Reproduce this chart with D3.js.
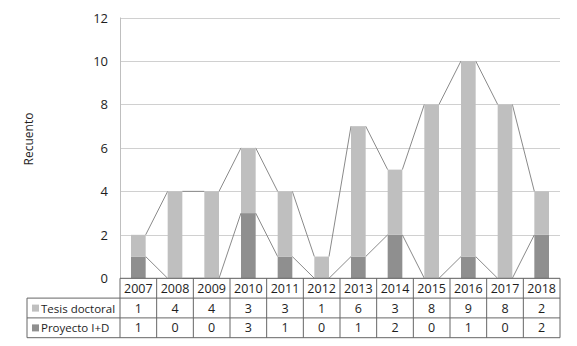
<!DOCTYPE html>
<html>
<head>
<meta charset="utf-8">
<script src="https://cdn.jsdelivr.net/npm/d3@7"></script>
<style>
  body { margin: 0; background: #fff; }
  text { font-family: "Open Sans", sans-serif; fill: #1e1e1e; }
</style>
</head>
<body>
<div id="chart"></div>
<script>
var years = ["2007","2008","2009","2010","2011","2012","2013","2014","2015","2016","2017","2018"];
var tesis = [1,4,4,3,3,1,6,3,8,9,8,2];
var proyecto = [1,0,0,3,1,0,1,2,0,1,0,2];
var seriesNames = ["Tesis doctoral", "Proyecto I+D"];
var yTicks = [0,2,4,6,8,10,12];

var width = 577, height = 346;
var plotLeft = 120, plotRight = 560, plotTop = 17.5, plotBottom = 278.3;
var rowH = 19.8;

var svg = d3.select("#chart")
            .append("svg")
            .attr("width", width)
            .attr("height", height)

var x = d3.scaleBand().domain(years).range([plotLeft, plotRight]).paddingInner(0).paddingOuter(0);
var y = d3.scaleLinear().domain([0, 12]).range([plotBottom, plotTop]);
var barW = x.bandwidth() * 0.4;

// gridlines
svg.selectAll(".grid")
    .data(yTicks)
    .enter()
    .append("line")
    .attr("x1", plotLeft).attr("x2", plotRight)
    .attr("y1", d => Math.round(y(d)) + 0.5)
    .attr("y2", d => Math.round(y(d)) + 0.5)
    .style("stroke", "#d0d0d0")
    .style("stroke-width", "1px");

// y tick labels
svg.selectAll(".ytick")
    .data(yTicks)
    .enter()
    .append("text")
    .attr("x", 108)
    .attr("y", d => y(d) + 5)
    .attr("text-anchor", "end")
    .style("font-size", "13px")
    .text(d => d);

svg.append("text")
    .attr("transform", "translate(33,139) rotate(-90)")
    .attr("text-anchor", "middle")
    .style("font-size", "12px")
    .text("Recuento");

// stacked data
var rows = years.map((yr, i) => ({ year: yr, p: proyecto[i], t: tesis[i] }));

// series lines (drawn behind bars)
var lineColor = "#8a8a8a";
for (var i = 0; i < rows.length - 1; i++) {
    var a = rows[i], b = rows[i + 1];
    var xa = x(a.year) + x.bandwidth() / 2 + barW / 2;
    var xb = x(b.year) + x.bandwidth() / 2 - barW / 2;
    svg.append("line")
        .attr("x1", xa).attr("y1", y(a.p))
        .attr("x2", xb).attr("y2", y(b.p))
        .style("stroke", lineColor).style("stroke-width", "1px");
    svg.append("line")
        .attr("x1", xa).attr("y1", y(a.p + a.t))
        .attr("x2", xb).attr("y2", y(b.p + b.t))
        .style("stroke", lineColor).style("stroke-width", "1px");
}

// bars
var colors = ["#bfbfbf", "#8f8f8f"];
svg.selectAll(".barP")
    .data(rows)
    .enter()
    .append("rect")
    .attr("x", d => x(d.year) + x.bandwidth() / 2 - barW / 2)
    .attr("width", barW)
    .attr("y", d => y(d.p))
    .attr("height", d => y(0) - y(d.p))
    .style("fill", colors[1]);

svg.selectAll(".barT")
    .data(rows)
    .enter()
    .append("rect")
    .attr("x", d => x(d.year) + x.bandwidth() / 2 - barW / 2)
    .attr("width", barW)
    .attr("y", d => y(d.p + d.t))
    .attr("height", d => y(d.p) - y(d.p + d.t))
    .style("fill", colors[0]);

// left axis line
svg.append("line")
    .attr("x1", plotLeft + 0.5).attr("x2", plotLeft + 0.5)
    .attr("y1", plotTop).attr("y2", plotBottom)
    .style("stroke", "#bfbfbf");

// data table
var tableLeft = 27;
var border = "#666";
var r0 = plotBottom, r1 = r0 + rowH, r2 = r1 + rowH, r3 = r2 + rowH;

// horizontal lines
svg.append("line").attr("x1", plotLeft).attr("x2", plotRight).attr("y1", r0).attr("y2", r0)
    .style("stroke", border);
[r1, r2, r3].forEach(function(yy) {
    svg.append("line").attr("x1", tableLeft).attr("x2", plotRight).attr("y1", yy).attr("y2", yy)
        .style("stroke", border);
});
// vertical lines
svg.append("line").attr("x1", tableLeft).attr("x2", tableLeft).attr("y1", r1).attr("y2", r3)
    .style("stroke", border);
years.forEach(function(yr) {
    svg.append("line").attr("x1", x(yr)).attr("x2", x(yr)).attr("y1", r0).attr("y2", r3)
        .style("stroke", border);
});
svg.append("line").attr("x1", plotRight).attr("x2", plotRight).attr("y1", r0).attr("y2", r3)
    .style("stroke", border);

// year header
svg.selectAll(".yr")
    .data(years)
    .enter()
    .append("text")
    .attr("x", d => x(d) + x.bandwidth() / 2)
    .attr("y", r0 + 14.5)
    .attr("text-anchor", "middle")
    .style("font-size", "12.5px")
    .text(d => d);

// series rows
var seriesVals = [tesis, proyecto];
seriesVals.forEach(function(vals, si) {
    var rowTop = r1 + si * rowH;
    svg.append("rect")
        .attr("x", 32).attr("y", rowTop + 6.5)
        .attr("width", 7).attr("height", 7)
        .style("fill", colors[si]);
    svg.append("text")
        .attr("x", 41).attr("y", rowTop + 14.5)
        .style("font-size", "11.5px")
        .text(seriesNames[si]);
    svg.selectAll(".v" + si)
        .data(vals)
        .enter()
        .append("text")
        .attr("x", (d, i) => x(years[i]) + x.bandwidth() / 2)
        .attr("y", rowTop + 14.5)
        .attr("text-anchor", "middle")
        .style("font-size", "12.5px")
        .text(d => d);
});
</script>
</body>
</html>
